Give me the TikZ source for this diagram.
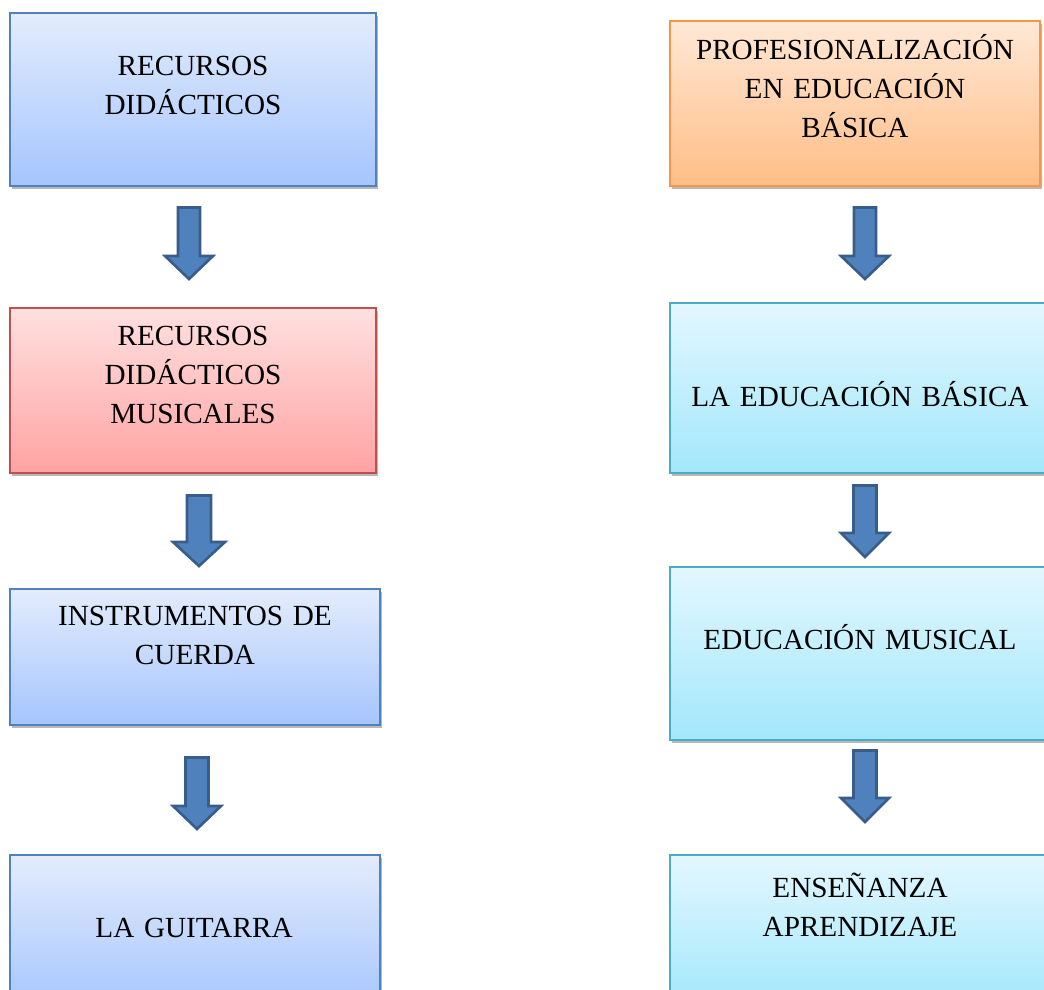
\documentclass[tikz,border=0pt]{standalone}
\usepackage{fontspec}
\setmainfont{Liberation Serif}
\usetikzlibrary{shadows}
\definecolor{bluetop}{HTML}{E3ECFC}
\definecolor{bluebot}{HTML}{A5C5FD}
\definecolor{blueline}{HTML}{4F81BD}
\definecolor{redtop}{HTML}{FFE0E0}
\definecolor{redbot}{HTML}{FFA3A3}
\definecolor{redline}{HTML}{C0504D}
\definecolor{orgtop}{HTML}{FFE8D6}
\definecolor{orgbot}{HTML}{FFBD86}
\definecolor{orgline}{HTML}{F79646}
\definecolor{cyantop}{HTML}{E3F7FE}
\definecolor{cyanbot}{HTML}{A2E7FB}
\definecolor{cyanline}{HTML}{4BACC6}
\definecolor{arrfill}{HTML}{4F81BD}
\definecolor{arrline}{HTML}{385D8A}
\tikzset{
  boxbase/.style={rectangle, line width=2pt, inner sep=0pt, outer sep=0pt,
    drop shadow={shadow xshift=2pt, shadow yshift=-3pt, fill=black, opacity=0.28}},
  bluebox/.style={boxbase, draw=blueline, top color=bluetop, bottom color=bluebot},
  redbox/.style={boxbase, draw=redline, top color=redtop, bottom color=redbot},
  orangebox/.style={boxbase, draw=orgline, top color=orgtop, bottom color=orgbot},
  cyanbox/.style={boxbase, draw=cyanline, top color=cyantop, bottom color=cyanbot},
  txt/.style={font=\fontsize{29.2}{39}\selectfont, text width=420pt, align=center,
    anchor=base, inner sep=0pt},
  blockarrow/.style={fill=arrfill, draw=arrline, line width=2.6pt, line join=miter}
}
% \flowbox{name}{style}{x1}{y1}{x2}{y2}
\newcommand{\flowbox}[6]{%
  \node[#2, minimum width={(#5-#3)*1pt}, minimum height={(#6-#4)*1pt}]
    (#1) at ({(#3+#5)/2},{(#4+#6)/2}) {};}
% \downarrow{name}{cx}{top}{headtop}{tip}{shaft half}{head half}
\newcommand{\blockdown}[7]{%
  \coordinate (#1) at (#2,#3);
  \draw[blockarrow] ([xshift=-#6pt]#1) -- ([xshift=#6pt]#1)
    -- ([xshift=#6pt]#2,#4) -- ([xshift=#7pt]#2,#4) -- (#2,#5)
    -- ([xshift=-#7pt]#2,#4) -- ([xshift=-#6pt]#2,#4) -- cycle;}
\begin{document}
\begin{tikzpicture}[x=1pt, y=-1pt]
\clip (0,0) rectangle (1044,989);
\fill[white] (0,0) rectangle (1044,989);

% left column
\flowbox{l1}{bluebox}{10}{13}{376}{186}
\flowbox{l2}{redbox}{10}{308}{376}{473}
\flowbox{l3}{bluebox}{10}{589}{380}{725}
\flowbox{l4}{bluebox}{10}{855}{380}{1010}
% right column
\flowbox{r1}{orangebox}{670}{21}{1040}{186}
\flowbox{r2}{cyanbox}{670}{303}{1052}{473}
\flowbox{r3}{cyanbox}{670}{567}{1052}{740}
\flowbox{r4}{cyanbox}{670}{855}{1052}{1010}

% texts
\node[txt] (t1) at (193,75) {RECURSOS\\DIDÁCTICOS};
\node[txt] (t2) at (193,345) {RECURSOS\\DIDÁCTICOS\\MUSICALES};
\node[txt] (t3) at (195,625) {INSTRUMENTOS DE\\CUERDA};
\node[txt] (t4) at (194,937.3) {LA GUITARRA};
\node[txt] (u1) at (855,59.3) {PROFESIONALIZACIÓN\\EN EDUCACIÓN\\BÁSICA};
\node[txt] (u2) at (860,406) {LA EDUCACIÓN BÁSICA};
\node[txt] (u3) at (860,649.3) {EDUCACIÓN MUSICAL};
\node[txt] (u4) at (860,897.7) {ENSEÑANZA\\APRENDIZAJE};

% block arrows
\blockdown{a1}{189}{207.5}{256}{279}{11}{24}
\blockdown{a2}{199}{495.5}{542}{566}{12}{26}
\blockdown{a3}{197}{757.5}{806}{829}{11.5}{24}
\blockdown{b1}{865}{207.5}{256}{279}{11}{24}
\blockdown{b2}{865}{485.5}{533}{557}{11.5}{24}
\blockdown{b3}{865}{750.5}{798}{822}{11.5}{24}
\end{tikzpicture}
\end{document}
